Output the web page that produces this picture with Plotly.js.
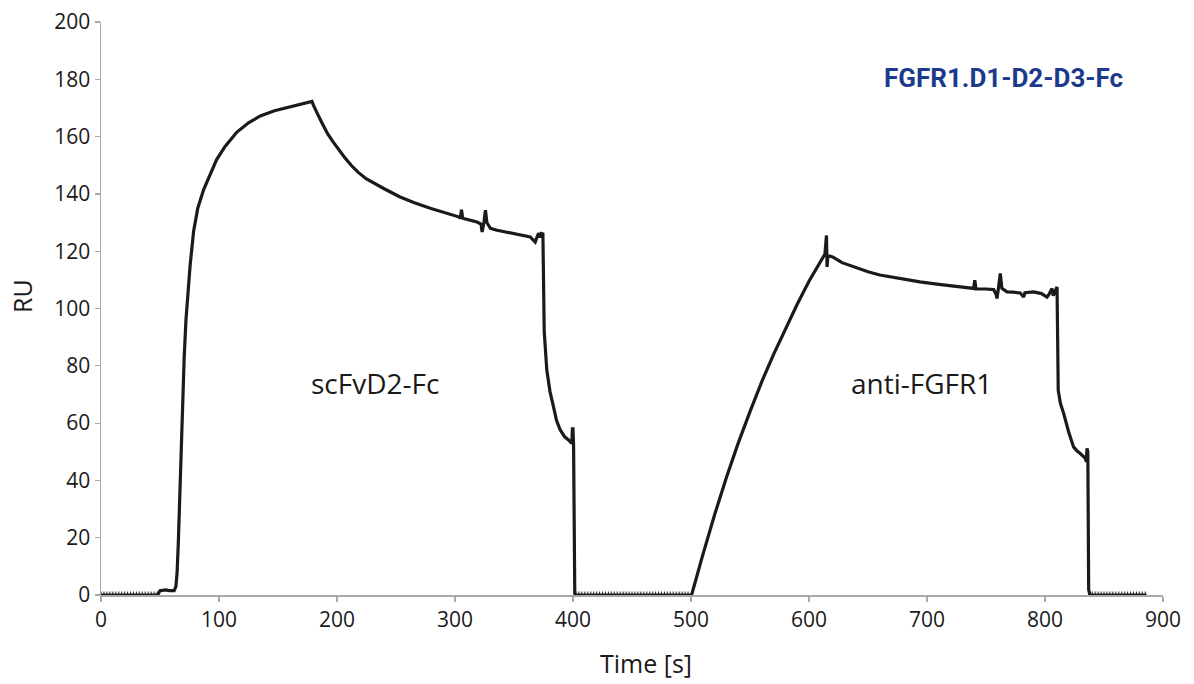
<!DOCTYPE html>
<html>
<head>
<meta charset="utf-8">
<script src="https://cdn.plot.ly/plotly-3.0.1.min.js"></script>
<style>html,body{margin:0;padding:0;background:#fff;}#chart{width:1194px;height:684px;}</style>
</head>
<body>
<div id="chart"></div>
<script>
// Sensorgram: time [s] and response [RU]
const timeS = [0,48,50,55,58,62,63.5,64.5,65.5,66.5,67.5,68.5,69.5,70.5,72,73.5,75.5,78.5,82,87,92,98,105,115,125,135,147,160,170,176,178.8,180,182,184,187,192,197,200,206,212,218,225,232,240,253,265,279,290,303,304.5,305.5,306.5,312,318.6,322,323,324.5,325.8,327,330,335.6,350,363.8,366,368,370,371,372,373,374.5,375.2,375.6,377.8,380.5,383.5,386,389.2,393,396.2,399,399.5,400,400.5,401,401.5,402,500,
500.5,510,520,530,540,550,560,570,580,590,600,610,613.5,614.8,615.3,616,620,628,638,650,660,677,694,710,722.5,739.5,740.5,741.5,750,756.5,758.5,759.3,760.5,762.1,763.5,767.8,773,779,781.9,783,790.4,797,801.7,803.5,805.9,807,809,810.2,810.7,811.2,813,815.8,820,824.2,827,829.9,834.2,835,835.6,836.3,837,837.5,838,886];
const responseRU = [0,0,1.5,1.8,1.5,1.5,3,8,18,32,46,60,72,83,96,105,115,127,135,141.5,146.5,152,156.5,161.5,164.8,167.2,169,170.3,171.2,171.8,172.3,171,169,167.5,165,161,158,156.3,153,150,147.5,145.2,143.5,141.8,139,137,135,133.5,132,131.5,134.5,131.5,131,130.2,129.5,126.7,130,134.3,130,128,127.3,126,125,124,123.2,125.5,126.3,124.8,126.2,126,100,92,78.5,71,65.7,61,57.6,55.2,54.1,52.9,58,58,52,2,0.5,0,0,
0,14,28,41,53,64,74.5,84,93,101.5,109.5,116.5,119,125.5,114.5,118.5,118,116,114.5,112.8,111.7,110.4,109.3,108.4,107.8,107,109.9,106.8,106.8,106.6,105,103.5,107,112.2,107,105.8,105.7,105.4,104,105.5,105.8,105.2,104,105,107,104.5,106.5,107.5,90,71.5,67,63.4,57,51.7,50.3,49.4,47.7,46.5,51.2,50,2,0.5,0,0];

// Baseline sampling ticks (instrument data points at zero response)
const baselineTimeS = [0,2.5,5,7.5,10,12.5,15,17.5,20,22.5,25,27.5,30,32.5,35,37.5,40,42.5,45,47.5,
402.5,405,407.5,410,412.5,415,417.5,420,422.5,425,427.5,430,432.5,435,437.5,440,442.5,445,447.5,450,452.5,455,457.5,460,462.5,465,467.5,470,472.5,475,477.5,480,482.5,485,487.5,490,492.5,495,497.5,
840,842.5,845,847.5,850,852.5,855,857.5,860,862.5,865,867.5,870,872.5,875,877.5,880,882.5,885];
const baselineRU = baselineTimeS.map(() => 0);

const labelTexts = ["scFvD2-Fc", "anti-FGFR1"];
const labelX = [232, 695];
const labelY = [74, 74];
const chipTitle = "FGFR1.D1-D2-D3-Fc";

const traces = [
  {x: baselineTimeS, y: baselineRU, type: 'scatter', mode: 'markers',
   marker: {symbol: 'line-ns', size: 5, line: {width: 1.1, color: '#333'}}, hoverinfo: 'skip', showlegend: false},
  {x: timeS, y: responseRU, type: 'scatter', mode: 'lines',
   line: {color: '#1a1a1a', width: 3.2}, showlegend: false}
];

const textFont = {family: 'Open Sans, sans-serif', color: '#1a1a1a'};
const annotations = labelTexts.map((t, i) => ({
  x: labelX[i], y: labelY[i], xref: 'x', yref: 'y', text: t, showarrow: false,
  font: Object.assign({}, textFont, {size: 28})
}));
annotations.push({
  x: 765, y: 180.3, xref: 'x', yref: 'y', text: '<b>' + chipTitle + '</b>', showarrow: false,
  font: {family: 'Roboto, sans-serif', size: 26, color: '#1c3a8c'}
});
// axis titles
annotations.push({x: 0.513, y: -0.119, xref: 'paper', yref: 'paper', text: 'Time [s]', showarrow: false,
  xanchor: 'center', yanchor: 'middle', font: Object.assign({}, textFont, {size: 25})});
annotations.push({x: -0.0744, y: 0.522, xref: 'paper', yref: 'paper', text: 'RU', showarrow: false, textangle: -90,
  xanchor: 'center', yanchor: 'middle', font: Object.assign({}, textFont, {size: 25})});

const axisCommon = {
  showgrid: false, zeroline: false, showline: true, linecolor: '#a8a8a8', linewidth: 1.5,
  ticks: 'outside', ticklen: 5, tickcolor: '#a8a8a8', tickwidth: 1.2,
  tickfont: {family: 'Open Sans, sans-serif', size: 21, color: '#1a1a1a'}
};

const layout = {
  width: 1194, height: 684,
  margin: {l: 101, r: 31, t: 22, b: 89},
  paper_bgcolor: '#fff', plot_bgcolor: '#fff',
  xaxis: Object.assign({}, axisCommon, {range: [0, 900], dtick: 100, tick0: 0}),
  yaxis: Object.assign({}, axisCommon, {range: [0, 200], dtick: 20, tick0: 0}),
  annotations: annotations
};

Plotly.newPlot('chart', traces, layout, {displayModeBar: false, staticPlot: true});
</script>
</body>
</html>
